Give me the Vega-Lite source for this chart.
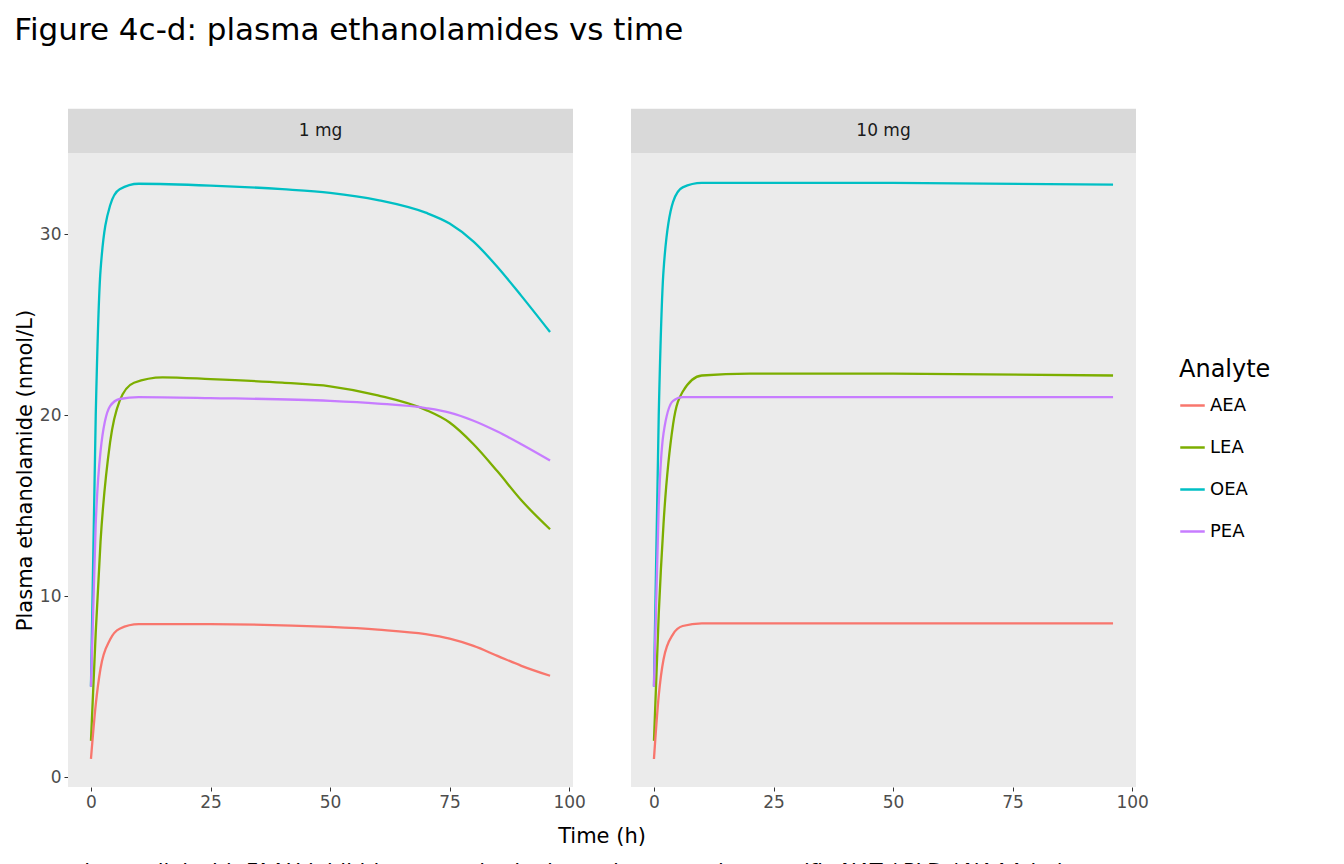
{
  "$schema": "https://vega.github.io/schema/vega-lite/v6.json",
  "background": "white",
  "padding": {"left": 14, "top": 14, "right": 10, "bottom": 5},
  "title": {"text": "Figure 4c-d: plasma ethanolamides vs time", "anchor": "start", "fontSize": 31, "fontWeight": "normal", "font": "DejaVu Sans", "color": "black", "offset": 62, "dx": 0},
  "data": {"values": [
    {"Dose": "1 mg", "Analyte": "OEA", "Time": 0, "Value": 5}, {"Dose": "1 mg", "Analyte": "OEA", "Time": 1, "Value": 20}, {"Dose": "1 mg", "Analyte": "OEA", "Time": 2, "Value": 28}, {"Dose": "1 mg", "Analyte": "OEA", "Time": 4, "Value": 31.6}, {"Dose": "1 mg", "Analyte": "OEA", "Time": 6, "Value": 32.5}, {"Dose": "1 mg", "Analyte": "OEA", "Time": 10, "Value": 32.8}, {"Dose": "1 mg", "Analyte": "OEA", "Time": 25, "Value": 32.7}, {"Dose": "1 mg", "Analyte": "OEA", "Time": 40, "Value": 32.5}, {"Dose": "1 mg", "Analyte": "OEA", "Time": 50, "Value": 32.3}, {"Dose": "1 mg", "Analyte": "OEA", "Time": 60, "Value": 31.9}, {"Dose": "1 mg", "Analyte": "OEA", "Time": 70, "Value": 31.2}, {"Dose": "1 mg", "Analyte": "OEA", "Time": 75, "Value": 30.6}, {"Dose": "1 mg", "Analyte": "OEA", "Time": 80, "Value": 29.6}, {"Dose": "1 mg", "Analyte": "OEA", "Time": 85, "Value": 28.2}, {"Dose": "1 mg", "Analyte": "OEA", "Time": 90, "Value": 26.6}, {"Dose": "1 mg", "Analyte": "OEA", "Time": 96, "Value": 24.6},
    {"Dose": "1 mg", "Analyte": "LEA", "Time": 0, "Value": 2}, {"Dose": "1 mg", "Analyte": "LEA", "Time": 1, "Value": 8}, {"Dose": "1 mg", "Analyte": "LEA", "Time": 2, "Value": 13}, {"Dose": "1 mg", "Analyte": "LEA", "Time": 4, "Value": 18.5}, {"Dose": "1 mg", "Analyte": "LEA", "Time": 6, "Value": 20.8}, {"Dose": "1 mg", "Analyte": "LEA", "Time": 9, "Value": 21.8}, {"Dose": "1 mg", "Analyte": "LEA", "Time": 15, "Value": 22.1}, {"Dose": "1 mg", "Analyte": "LEA", "Time": 25, "Value": 22.0}, {"Dose": "1 mg", "Analyte": "LEA", "Time": 40, "Value": 21.8}, {"Dose": "1 mg", "Analyte": "LEA", "Time": 50, "Value": 21.6}, {"Dose": "1 mg", "Analyte": "LEA", "Time": 60, "Value": 21.1}, {"Dose": "1 mg", "Analyte": "LEA", "Time": 70, "Value": 20.3}, {"Dose": "1 mg", "Analyte": "LEA", "Time": 75, "Value": 19.6}, {"Dose": "1 mg", "Analyte": "LEA", "Time": 80, "Value": 18.4}, {"Dose": "1 mg", "Analyte": "LEA", "Time": 85, "Value": 16.9}, {"Dose": "1 mg", "Analyte": "LEA", "Time": 90, "Value": 15.3}, {"Dose": "1 mg", "Analyte": "LEA", "Time": 96, "Value": 13.7},
    {"Dose": "1 mg", "Analyte": "PEA", "Time": 0, "Value": 5}, {"Dose": "1 mg", "Analyte": "PEA", "Time": 1, "Value": 14}, {"Dose": "1 mg", "Analyte": "PEA", "Time": 2, "Value": 18}, {"Dose": "1 mg", "Analyte": "PEA", "Time": 4, "Value": 20.5}, {"Dose": "1 mg", "Analyte": "PEA", "Time": 6, "Value": 20.9}, {"Dose": "1 mg", "Analyte": "PEA", "Time": 10, "Value": 21.0}, {"Dose": "1 mg", "Analyte": "PEA", "Time": 25, "Value": 20.95}, {"Dose": "1 mg", "Analyte": "PEA", "Time": 50, "Value": 20.8}, {"Dose": "1 mg", "Analyte": "PEA", "Time": 60, "Value": 20.65}, {"Dose": "1 mg", "Analyte": "PEA", "Time": 70, "Value": 20.4}, {"Dose": "1 mg", "Analyte": "PEA", "Time": 75, "Value": 20.15}, {"Dose": "1 mg", "Analyte": "PEA", "Time": 80, "Value": 19.7}, {"Dose": "1 mg", "Analyte": "PEA", "Time": 85, "Value": 19.1}, {"Dose": "1 mg", "Analyte": "PEA", "Time": 90, "Value": 18.4}, {"Dose": "1 mg", "Analyte": "PEA", "Time": 96, "Value": 17.5},
    {"Dose": "1 mg", "Analyte": "AEA", "Time": 0, "Value": 1}, {"Dose": "1 mg", "Analyte": "AEA", "Time": 1, "Value": 4}, {"Dose": "1 mg", "Analyte": "AEA", "Time": 2, "Value": 6}, {"Dose": "1 mg", "Analyte": "AEA", "Time": 4, "Value": 7.6}, {"Dose": "1 mg", "Analyte": "AEA", "Time": 6, "Value": 8.2}, {"Dose": "1 mg", "Analyte": "AEA", "Time": 10, "Value": 8.45}, {"Dose": "1 mg", "Analyte": "AEA", "Time": 25, "Value": 8.45}, {"Dose": "1 mg", "Analyte": "AEA", "Time": 50, "Value": 8.3}, {"Dose": "1 mg", "Analyte": "AEA", "Time": 60, "Value": 8.15}, {"Dose": "1 mg", "Analyte": "AEA", "Time": 70, "Value": 7.9}, {"Dose": "1 mg", "Analyte": "AEA", "Time": 75, "Value": 7.65}, {"Dose": "1 mg", "Analyte": "AEA", "Time": 80, "Value": 7.25}, {"Dose": "1 mg", "Analyte": "AEA", "Time": 85, "Value": 6.7}, {"Dose": "1 mg", "Analyte": "AEA", "Time": 90, "Value": 6.15}, {"Dose": "1 mg", "Analyte": "AEA", "Time": 96, "Value": 5.6},
    {"Dose": "10 mg", "Analyte": "OEA", "Time": 0, "Value": 5}, {"Dose": "10 mg", "Analyte": "OEA", "Time": 1, "Value": 20}, {"Dose": "10 mg", "Analyte": "OEA", "Time": 2, "Value": 28}, {"Dose": "10 mg", "Analyte": "OEA", "Time": 4, "Value": 31.8}, {"Dose": "10 mg", "Analyte": "OEA", "Time": 6, "Value": 32.6}, {"Dose": "10 mg", "Analyte": "OEA", "Time": 10, "Value": 32.85}, {"Dose": "10 mg", "Analyte": "OEA", "Time": 50, "Value": 32.85}, {"Dose": "10 mg", "Analyte": "OEA", "Time": 96, "Value": 32.75},
    {"Dose": "10 mg", "Analyte": "LEA", "Time": 0, "Value": 2}, {"Dose": "10 mg", "Analyte": "LEA", "Time": 1, "Value": 9}, {"Dose": "10 mg", "Analyte": "LEA", "Time": 2, "Value": 14}, {"Dose": "10 mg", "Analyte": "LEA", "Time": 4, "Value": 19.5}, {"Dose": "10 mg", "Analyte": "LEA", "Time": 6, "Value": 21.3}, {"Dose": "10 mg", "Analyte": "LEA", "Time": 10, "Value": 22.2}, {"Dose": "10 mg", "Analyte": "LEA", "Time": 20, "Value": 22.3}, {"Dose": "10 mg", "Analyte": "LEA", "Time": 50, "Value": 22.3}, {"Dose": "10 mg", "Analyte": "LEA", "Time": 96, "Value": 22.2},
    {"Dose": "10 mg", "Analyte": "PEA", "Time": 0, "Value": 5}, {"Dose": "10 mg", "Analyte": "PEA", "Time": 1, "Value": 15}, {"Dose": "10 mg", "Analyte": "PEA", "Time": 2, "Value": 19}, {"Dose": "10 mg", "Analyte": "PEA", "Time": 4, "Value": 20.8}, {"Dose": "10 mg", "Analyte": "PEA", "Time": 6, "Value": 21.0}, {"Dose": "10 mg", "Analyte": "PEA", "Time": 50, "Value": 21.0}, {"Dose": "10 mg", "Analyte": "PEA", "Time": 96, "Value": 21.0},
    {"Dose": "10 mg", "Analyte": "AEA", "Time": 0, "Value": 1}, {"Dose": "10 mg", "Analyte": "AEA", "Time": 1, "Value": 4.5}, {"Dose": "10 mg", "Analyte": "AEA", "Time": 2, "Value": 6.5}, {"Dose": "10 mg", "Analyte": "AEA", "Time": 4, "Value": 7.9}, {"Dose": "10 mg", "Analyte": "AEA", "Time": 6, "Value": 8.35}, {"Dose": "10 mg", "Analyte": "AEA", "Time": 10, "Value": 8.5}, {"Dose": "10 mg", "Analyte": "AEA", "Time": 50, "Value": 8.5}, {"Dose": "10 mg", "Analyte": "AEA", "Time": 96, "Value": 8.5}
  ]},
  "facet": {"column": {"field": "Dose", "type": "nominal", "sort": ["1 mg", "10 mg"],
    "title": ["Time (h)", "in parallel with FAAH inhibition; magnitude depends on species-specific NAT / PLD / NAAA balance."],
    "header": {"titleOrient": "bottom", "titleFontSize": 21, "titleFont": "DejaVu Sans", "titleFontWeight": "normal", "titleColor": "black", "titlePadding": 6, "titleLineHeight": 36, "labels": false}}},
  "spacing": 58,
  "spec": {
    "width": 505,
    "height": 634,
    "layer": [
      {
        "transform": [{"filter": "datum.Time == 0 && datum.Analyte == 'AEA'"}],
        "mark": {"type": "rect", "fill": "#D9D9D9", "clip": false},
        "encoding": {
          "x": {"datum": -4.8, "type": "quantitative"}, "x2": {"datum": 100.8},
          "y": {"datum": 34.5, "type": "quantitative"}, "y2": {"datum": 36.95}
        }
      },
      {
        "transform": [{"filter": "datum.Time == 0 && datum.Analyte == 'AEA'"}],
        "mark": {"type": "text", "fontSize": 17, "font": "DejaVu Sans", "color": "#1A1A1A", "clip": false, "baseline": "middle"},
        "encoding": {
          "x": {"datum": 48, "type": "quantitative"},
          "y": {"datum": 35.72, "type": "quantitative"},
          "text": {"field": "Dose"}
        }
      },
      {
        "mark": {"type": "line", "strokeWidth": 2.3, "interpolate": "monotone"},
        "encoding": {
          "x": {"field": "Time", "type": "quantitative", "scale": {"domain": [-4.8, 100.8], "nice": false, "zero": false},
            "axis": {"values": [0, 25, 50, 75, 100], "title": null}},
          "y": {"field": "Value", "type": "quantitative", "scale": {"domain": [-0.55, 34.5], "nice": false, "zero": false},
            "axis": {"values": [0, 10, 20, 30], "title": "Plasma ethanolamide (nmol/L)"}},
          "color": {"field": "Analyte", "type": "nominal", "sort": ["AEA", "LEA", "OEA", "PEA"],
            "scale": {"domain": ["AEA", "LEA", "OEA", "PEA"], "range": ["#F8766D", "#7CAE00", "#00BFC4", "#C77CFF"]},
            "legend": {"orient": "none", "legendX": 1111, "legendY": 205, "symbolType": "stroke", "symbolStrokeWidth": 2.5, "symbolSize": 600, "titleFontSize": 24, "titleFontWeight": "normal", "titleFont": "DejaVu Sans", "titleColor": "black", "titlePadding": 10, "labelFontSize": 18, "labelFont": "DejaVu Sans", "labelColor": "black", "rowPadding": 19, "symbolFillColor": "#EBEBEB"}}
        }
      }
    ]
  },
  "resolve": {"scale": {"x": "shared", "y": "shared"}},
  "config": {
    "view": {"fill": "#EBEBEB", "stroke": null},
    "axis": {"gridColor": "white", "gridWidth": 1.3, "domain": false, "tickColor": "#333333", "tickSize": 4, "labelColor": "#4D4D4D", "labelFontSize": 17, "labelFont": "DejaVu Sans", "titleFont": "DejaVu Sans", "titleFontSize": 21, "titleFontWeight": "normal", "titleColor": "black", "labelPadding": 3}
  }
}
